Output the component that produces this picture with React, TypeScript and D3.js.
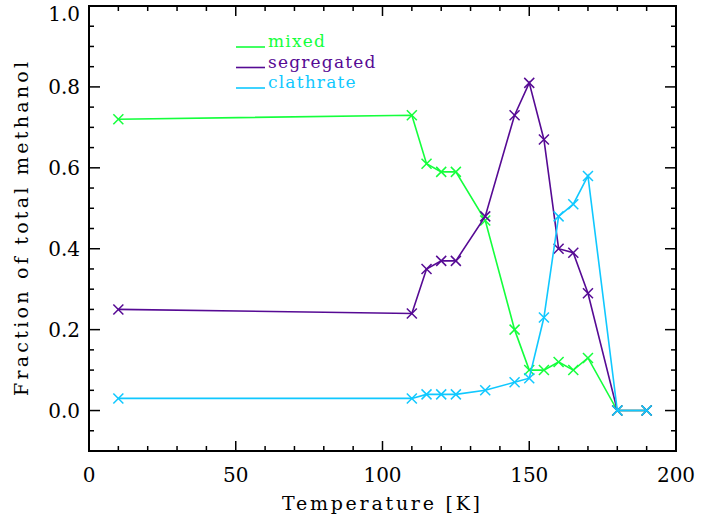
import React from "react";
import * as d3 from "d3";

const temps = [10, 110, 115, 120, 125, 135, 145, 150, 155, 160, 165, 170, 180, 190];
const mixed = [0.72, 0.73, 0.61, 0.59, 0.59, 0.47, 0.2, 0.1, 0.1, 0.12, 0.1, 0.13, 0.0, 0.0];
const segregated = [0.25, 0.24, 0.35, 0.37, 0.37, 0.48, 0.73, 0.81, 0.67, 0.4, 0.39, 0.29, 0.0, 0.0];
const clathrate = [0.03, 0.03, 0.04, 0.04, 0.04, 0.05, 0.07, 0.08, 0.23, 0.48, 0.51, 0.58, 0.0, 0.0];
const seriesNames = ["mixed", "segregated", "clathrate"];
const xTicks = [0, 50, 100, 150, 200];
const yTicks = [0.0, 0.2, 0.4, 0.6, 0.8, 1.0];

const colors = ["#14ff3c", "#560a94", "#10c8ff"];
const FONT = "DejaVu Serif";

export default function App() {
  const W = 712, H = 517;
  const L = 89, R = 676, T = 6, B = 451;
  const x = d3.scaleLinear().domain([0, 200]).range([L, R]);
  const y = d3.scaleLinear().domain([-0.1, 1.0]).range([B, T]);
  const data = [mixed, segregated, clathrate];
  const line = d3.line<[number, number]>().x(d => x(d[0])).y(d => y(d[1]));
  const xMinor = d3.range(0, 201, 10);
  const yMinor = d3.range(-0.1, 1.001, 0.05).map(v => Math.round(v * 100) / 100);
  const ms = 5;
  return (
    <svg width={W} height={H} style={{ position: "absolute", left: 0, top: 0, background: "#fff" }}>
      <rect x={0} y={0} width={W} height={H} fill="#fff" />
      {xMinor.map(v => {
        const major = v % 50 === 0;
        const len = major ? 10 : 5;
        return (
          <g key={"xt" + v} stroke="#000" strokeWidth={1.5}>
            <line x1={x(v)} x2={x(v)} y1={B} y2={B - len} />
            <line x1={x(v)} x2={x(v)} y1={T} y2={T + len} />
          </g>
        );
      })}
      {yMinor.map(v => {
        const major = Math.abs(Math.round(v * 100) % 20) === 0;
        const len = major ? 11 : 5;
        return (
          <g key={"yt" + v} stroke="#000" strokeWidth={1.5}>
            <line x1={L} x2={L + len} y1={y(v)} y2={y(v)} />
            <line x1={R} x2={R - len} y1={y(v)} y2={y(v)} />
          </g>
        );
      })}
      <rect x={L} y={T} width={R - L} height={B - T} fill="none" stroke="#000" strokeWidth={2} />
      {xTicks.map(v => (
        <text key={"xl" + v} x={x(v)} y={482} textAnchor="middle" fontFamily={FONT} fontSize={20} fill="#000">
          {v}
        </text>
      ))}
      {yTicks.map(v => (
        <text key={"yl" + v} x={80} y={v === 1.0 ? 21 : y(v) + 7} textAnchor="end" fontFamily={FONT} fontSize={20} fill="#000">
          {v.toFixed(1)}
        </text>
      ))}
      <text x={381} y={510} textAnchor="middle" fontFamily={FONT} fontSize={19} fill="#000" textLength={198} lengthAdjust="spacing">
        Temperature [K]
      </text>
      <text transform={`translate(28,229) rotate(-90)`} textAnchor="middle" fontFamily={FONT} fontSize={19} fill="#000" textLength={334} lengthAdjust="spacing">
        Fraction of total methanol
      </text>
      {data.map((vals, i) => {
        const pts: [number, number][] = temps.map((t, j) => [t, vals[j]]);
        return (
          <g key={"s" + i}>
            <path d={line(pts) || ""} fill="none" stroke={colors[i]} strokeWidth={1.6} />
            {pts.map((p, j) => (
              <g key={j} stroke={colors[i]} strokeWidth={1.5}>
                <line x1={x(p[0]) - ms} x2={x(p[0]) + ms} y1={y(p[1]) - ms} y2={y(p[1]) + ms} />
                <line x1={x(p[0]) - ms} x2={x(p[0]) + ms} y1={y(p[1]) + ms} y2={y(p[1]) - ms} />
              </g>
            ))}
          </g>
        );
      })}
      {seriesNames.map((n, i) => (
        <g key={"lg" + n}>
          <line x1={236} x2={265} y1={47 + i * 20.5} y2={47 + i * 20.5} stroke={colors[i]} strokeWidth={1.6} />
          <text x={268} y={47 + i * 20.5} fontFamily={FONT} fontSize={17} letterSpacing={1.2} fill={colors[i]}>
            {n}
          </text>
        </g>
      ))}
    </svg>
  );
}
